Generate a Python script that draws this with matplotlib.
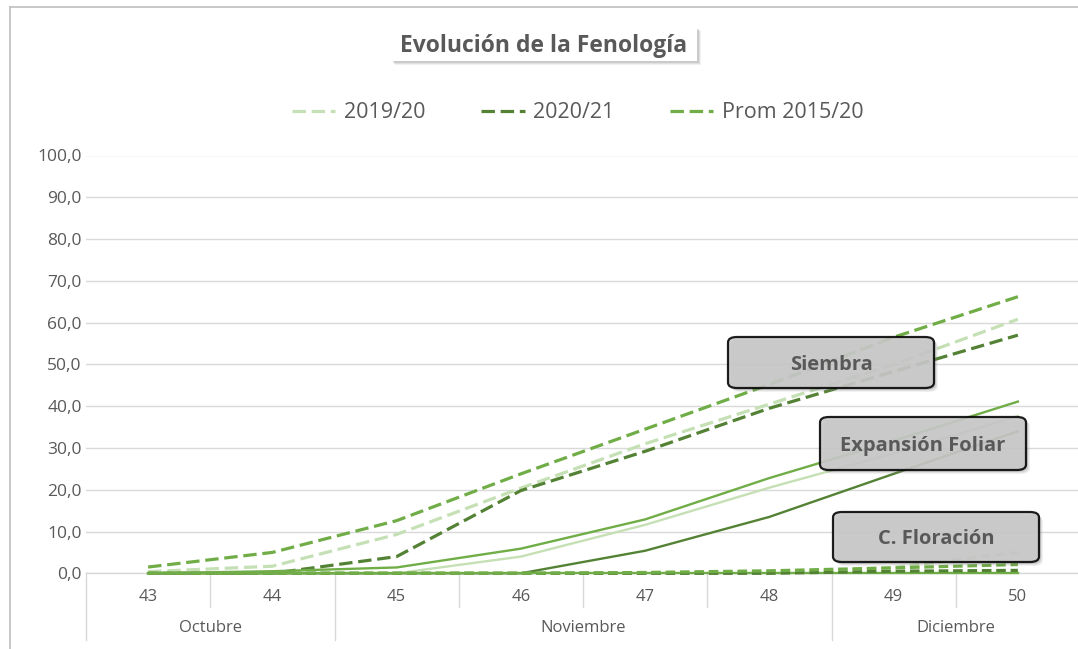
import matplotlib
matplotlib.use("Agg")
import matplotlib.pyplot as plt
from matplotlib.lines import Line2D
from matplotlib.patches import FancyBboxPatch

# ---------------- data ----------------
weeks = ['43', '44', '45', '46', '47', '48', '49', '50']
months = ['Octubre', 'Noviembre', 'Diciembre']
month_spans = [(0, 1), (2, 5), (6, 7)]          # first/last week index of each month
series_names = ['2019/20', '2020/21', 'Prom 2015/20']

# Siembra (dashed)
siembra_1920 = [0.4, 1.7, 9.3, 20.4, 31.0, 40.5, 50.0, 60.8]
siembra_2021 = [0.0, 0.0, 4.0, 19.8, 29.2, 39.5, 48.3, 57.0]
siembra_prom = [1.5, 5.0, 12.6, 23.8, 34.5, 45.2, 56.5, 66.2]
# Expansión foliar (solid)
expan_1920 = [0.0, 0.0, 0.0, 4.0, 11.6, 20.5, 28.7, 37.6]
expan_2021 = [0.0, 0.0, 0.0, 0.0, 5.4, 13.5, 23.8, 34.0]
expan_prom = [0.0, 0.5, 1.4, 5.9, 12.9, 22.8, 31.7, 41.1]
# Comienzo de floración
flor_1920 = [0.0, 0.0, 0.0, 0.0, 0.0, 0.0, 1.4, 5.0]
flor_2021 = [0.0, 0.0, 0.0, 0.0, 0.0, 0.0, 0.5, 0.7]
flor_prom = [0.0, 0.0, 0.0, 0.0, 0.2, 0.6, 1.3, 2.1]
flor_prom_solid = [0.0, 0.0, 0.0, 0.0, 0.0, 0.0, 0.0, 0.0]

yticks = [0, 10, 20, 30, 40, 50, 60, 70, 80, 90, 100]
title = 'Evolución de la Fenología'
labels_boxes = ['Siembra', 'Expansión Foliar', 'C. Floración']

# ---------------- style ----------------
plt.rcParams['font.family'] = ['Open Sans', 'DejaVu Sans']
TXT = '#595959'
GRID = '#D9D9D9'
C_LIGHT = '#C5E0B4'
C_DARK = '#548235'
C_MID = '#70AD47'

W, H = 1078, 649
fig = plt.figure(figsize=(W / 100, H / 100), dpi=100)


def fx(px):
    return px / W


def fy(py):
    return 1 - py / H


y0_px, y100_px = 573.3, 155.5
x_left, x_right = 86, 1080
ax = fig.add_axes([fx(x_left), fy(y0_px), (x_right - x_left) / W, (y0_px - y100_px) / H])
ax.set_xlim(-0.5, 7.5)
ax.set_ylim(0, 100)
ax.set_facecolor('none')

for s in ['top', 'right', 'left']:
    ax.spines[s].set_visible(False)
ax.spines['bottom'].set_color(GRID)
ax.spines['bottom'].set_linewidth(1)

ax.set_yticks(yticks)
ax.set_yticklabels([f"{v:.1f}".replace('.', ',') for v in yticks], color=TXT, fontsize=12.5)
ax.yaxis.grid(True, color=GRID, lw=1)
ax.set_axisbelow(True)
ax.tick_params(axis='y', length=0, pad=3)
ax.set_xticks([])

x = list(range(len(weeks)))
DASH = (4.2, 1.8)
lw_d, lw_s = 2.3, 1.7

l1, = ax.plot(x, siembra_1920, color=C_LIGHT, lw=lw_d, dashes=DASH, clip_on=False, zorder=3)
l2, = ax.plot(x, siembra_2021, color=C_DARK, lw=lw_d, dashes=DASH, clip_on=False, zorder=3)
l3, = ax.plot(x, siembra_prom, color=C_MID, lw=lw_d, dashes=DASH, clip_on=False, zorder=3)

ax.plot(x, expan_1920, color=C_LIGHT, lw=lw_s, clip_on=False, zorder=3)
ax.plot(x, expan_2021, color=C_DARK, lw=lw_s, clip_on=False, zorder=3)
ax.plot(x, expan_prom, color=C_MID, lw=lw_s, clip_on=False, zorder=3)

ax.plot(x, flor_prom_solid, color=C_MID, lw=lw_s, clip_on=False, zorder=3)
ax.plot(x, flor_1920, color=C_LIGHT, lw=lw_d, dashes=(3.0, 1.5), clip_on=False, zorder=3)
ax.plot(x, flor_2021, color=C_DARK, lw=lw_d, dashes=(3.0, 1.5), clip_on=False, zorder=3)
ax.plot(x, flor_prom, color=C_MID, lw=lw_d, dashes=(3.0, 1.5), clip_on=False, zorder=3)

# ---------------- category axis (two tiers) ----------------
tr = ax.get_xaxis_transform()
ax_h_px = y0_px - y100_px
def ay(py):  # pixel row -> axes fraction
    return (y0_px - py) / ax_h_px

for i, w in enumerate(weeks):
    ax.text(i, ay(597), w, transform=tr, ha='center', va='center', color=TXT, fontsize=12)
for name, (a, b) in zip(months, month_spans):
    ax.text((a + b) / 2, ay(628), name, transform=tr, ha='center', va='center', color=TXT, fontsize=12)

month_bounds = [month_spans[0][0] - 0.5] + [b + 0.5 for (_, b) in month_spans[:-1]]
for i in range(len(weeks) - 1):
    xb = i + 0.5
    if xb in month_bounds:
        continue
    ax.add_line(Line2D([xb, xb], [0, ay(607)], transform=tr, color=GRID, lw=1, clip_on=False))
for xb in month_bounds:
    ax.add_line(Line2D([xb, xb], [0, ay(640)], transform=tr, color=GRID, lw=1, clip_on=False))

# ---------------- legend ----------------
fig.legend([l1, l2, l3], series_names, loc='center', bbox_to_anchor=(fx(578), fy(113)),
           ncol=3, frameon=False, fontsize=15.5, handlelength=2.0, handletextpad=0.4,
           columnspacing=2.6, labelcolor=TXT)

# ---------------- outer frame ----------------
fig.add_artist(Line2D([fx(10), 1.0], [fy(7), fy(7)], color='#BFBFBF', lw=1.2))
fig.add_artist(Line2D([fx(10), fx(10)], [0, fy(7)], color='#BFBFBF', lw=1.2))

# ---------------- title box ----------------
def shadow_rect(x0, y0, x1, y1, rounding=0, fc='#CDCDCD', ec='none', lw=0, alpha=1.0, z=5):
    style = f"round,pad=0,rounding_size={rounding / W}" if rounding else "square,pad=0"
    for k, a in [(4, 0.10), (3, 0.15), (2, 0.22)]:
        sh = FancyBboxPatch((fx(x0 + k), fy(y1 + k)), fx(x1) - fx(x0), fy(y0) - fy(y1),
                            boxstyle=style, transform=fig.transFigure, fc='#7F7F7F',
                            ec='none', alpha=a, zorder=z)
        fig.add_artist(sh)
    box = FancyBboxPatch((fx(x0), fy(y1)), fx(x1) - fx(x0), fy(y0) - fy(y1),
                         boxstyle=style, transform=fig.transFigure, fc=fc, ec=ec, lw=lw,
                         alpha=alpha, zorder=z + 1)
    fig.add_artist(box)

shadow_rect(391, 27, 697, 61, fc='white', z=5)
fig.text(fx(544), fy(46), title, ha='center', va='center', color=TXT, fontsize=16.5,
         fontweight='bold', zorder=10)

# ---------------- annotation boxes ----------------
boxes = [(728, 337, 934, 388, 831, 365), (820, 417, 1026, 470, 923, 446),
         (833, 512, 1039, 562, 936, 539)]
for (x0, y0, x1, y1, cx, cy), lab in zip(boxes, labels_boxes):
    shadow_rect(x0, y0, x1, y1, rounding=9, fc='#C9C9C9', ec='black', lw=1.6, alpha=0.88, z=5)
    fig.text(fx(cx), fy(cy), lab, ha='center', va='center', color=TXT, fontsize=14.5,
             fontweight='bold', zorder=10)

fig.savefig('out.png', dpi=100)
